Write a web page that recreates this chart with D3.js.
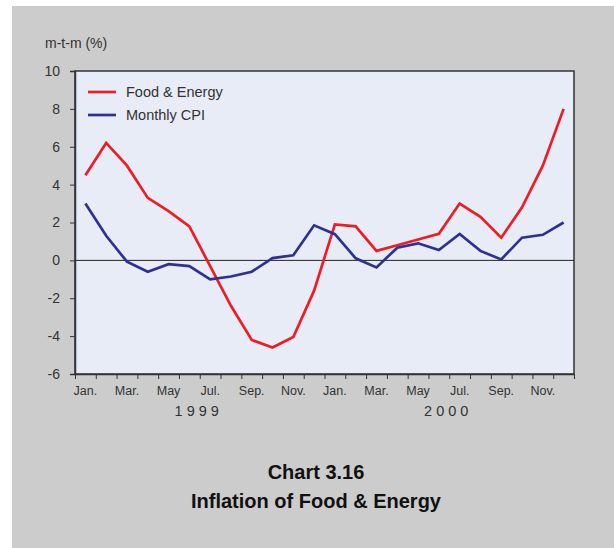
<!DOCTYPE html>
<html>
<head>
<meta charset="utf-8">
<script src="https://cdn.jsdelivr.net/npm/d3@7"></script>
<style>
  body { margin: 0; background: #fff; }
  svg { display: block; font-family: "Liberation Sans", Arial, sans-serif; }
</style>
</head>
<body>
<svg id="chart"></svg>
<script>
// months Jan 1999 .. Dec 2000
var months = ["Jan99","Feb99","Mar99","Apr99","May99","Jun99","Jul99","Aug99","Sep99","Oct99","Nov99","Dec99",
              "Jan00","Feb00","Mar00","Apr00","May00","Jun00","Jul00","Aug00","Sep00","Oct00","Nov00","Dec00"];
var monthLabels = ["Jan.","","Mar.","","May","","Jul.","","Sep.","","Nov.","",
                   "Jan.","","Mar.","","May","","Jul.","","Sep.","","Nov.",""];
var years = ["1 9 9 9", "2 0 0 0"];
var foodEnergy = [4.5, 6.2, 5.0, 3.3, 2.6, 1.8, -0.3, -2.4, -4.2, -4.6, -4.05, -1.6,
                  1.9, 1.8, 0.5, 0.8, 1.1, 1.4, 3.0, 2.3, 1.2, 2.8, 5.0, 8.0];
var monthlyCPI = [3.0, 1.3, -0.07, -0.6, -0.2, -0.3, -1.0, -0.85, -0.6, 0.12, 0.27, 1.85,
                  1.38, 0.11, -0.37, 0.67, 0.9, 0.55, 1.4, 0.5, 0.05, 1.2, 1.35, 2.0];
var yTicks = [-6, -4, -2, 0, 2, 4, 6, 8, 10];
var series = [
  { name: "Food & Energy", values: foodEnergy, color: "#ee1c25" },
  { name: "Monthly CPI", values: monthlyCPI, color: "#2e3192" }
];

var W = 614, H = 548;
var margin = { top: 71, right: 40, bottom: 174, left: 75 },
    width = W - margin.left - margin.right,
    height = H - margin.top - margin.bottom;

var svg = d3.select("#chart").attr("width", W).attr("height", H);

// grey panel
svg.append("rect")
  .attr("x", 12).attr("y", 6)
  .attr("width", W - 12).attr("height", H - 6)
  .attr("fill", "#cccccc");

var g = svg.append("g")
  .attr("transform", "translate(" + margin.left + "," + margin.top + ")");

var x = d3.scaleBand().domain(months).range([0, width]);
var xEdge = d3.scaleLinear().domain([0, months.length]).range([0, width]);
var y = d3.scaleLinear().domain([-6, 10]).range([height, 0]);

g.append("rect")
  .attr("width", width).attr("height", height)
  .attr("fill", "#e8ecf6")
  .attr("stroke", "#333").attr("stroke-width", 1.5);

// zero line
g.append("line")
  .attr("x1", 0).attr("x2", width)
  .attr("y1", y(0)).attr("y2", y(0))
  .attr("stroke", "#222").attr("stroke-width", 1);

/* axes */
var yAxis = d3.axisLeft(y).tickValues(yTicks).tickSize(5).tickPadding(10)
  .tickFormat(function(d) { return String(d); });
g.append("g").attr("class", "y_axis").call(yAxis)
  .call(function(a) {
    a.select(".domain").attr("stroke", "#333").attr("stroke-width", 1.5);
    a.selectAll("line").attr("stroke", "#333");
    a.selectAll("text").attr("fill", "#333").style("font-size", "14px");
  });

var xTicks = d3.axisBottom(xEdge).tickValues(d3.range(months.length + 1))
  .tickFormat("").tickSize(5).tickSizeOuter(0);
g.append("g").attr("transform", "translate(0," + height + ")").call(xTicks)
  .call(function(a) {
    a.select(".domain").attr("stroke", "#333").attr("stroke-width", 1.5);
    a.selectAll("line").attr("stroke", "#333");
  });

var xLabels = d3.axisBottom(x).tickSize(0).tickPadding(12)
  .tickFormat(function(d, i) { return monthLabels[i]; });
g.append("g").attr("transform", "translate(0," + height + ")").call(xLabels)
  .call(function(a) {
    a.select(".domain").remove();
    a.selectAll("text").attr("fill", "#333").style("font-size", "12.5px");
  });

g.selectAll(".year")
  .data(years)
  .enter().append("text")
  .attr("class", "year")
  .attr("x", function(d, i) { return (x(months[i * 12]) + x(months[i * 12 + 11]) + x.bandwidth()) / 2 - 3; })
  .attr("y", height + 42)
  .attr("text-anchor", "middle")
  .attr("fill", "#333")
  .style("font-size", "14.5px")
  .text(function(d) { return d; });

// unit label
svg.append("text")
  .attr("x", 45).attr("y", 48)
  .attr("fill", "#333").style("font-size", "14px")
  .text("m-t-m (%)");

/* lines */
var line = d3.line()
  .x(function(d, i) { return x(months[i]) + x.bandwidth() / 2; })
  .y(function(d) { return y(d); });

g.selectAll(".series")
  .data(series)
  .enter().append("path")
  .attr("class", "series")
  .attr("d", function(d) { return line(d.values); })
  .attr("fill", "none")
  .attr("stroke", function(d) { return d.color; })
  .attr("stroke-width", 2.7)
  .attr("stroke-linejoin", "miter");

/* legend */
var legend = g.selectAll(".legend")
  .data(series)
  .enter().append("g")
  .attr("class", "legend")
  .attr("transform", function(d, i) { return "translate(13," + (21 + i * 23) + ")"; });
legend.append("line")
  .attr("x1", 0).attr("x2", 28)
  .attr("stroke", function(d) { return d.color; })
  .attr("stroke-width", 2.7);
legend.append("text")
  .attr("x", 38).attr("y", 5)
  .attr("fill", "#333").style("font-size", "14.5px")
  .text(function(d) { return d.name; });

/* title */
var titles = ["Chart 3.16", "Inflation of Food & Energy"];
svg.selectAll(".title")
  .data(titles)
  .enter().append("text")
  .attr("class", "title")
  .attr("x", 316)
  .attr("y", function(d, i) { return 479 + i * 29; })
  .attr("text-anchor", "middle")
  .attr("fill", "#111")
  .style("font-size", "20px")
  .style("font-weight", "bold")
  .text(function(d) { return d; });
</script>
</body>
</html>
